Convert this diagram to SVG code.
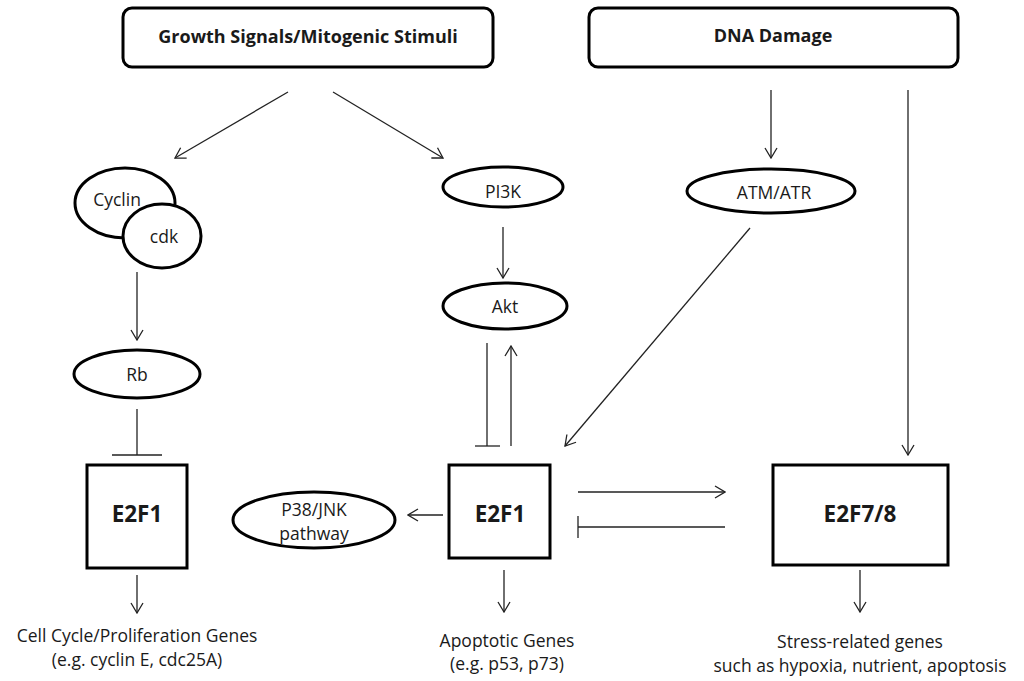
<svg xmlns="http://www.w3.org/2000/svg" width="1024" height="681" viewBox="0 0 1024 681">
<style>
.t{font-family:"Open Sans","Liberation Sans",sans-serif;fill:#1a1a1a;text-anchor:middle;dominant-baseline:central;font-size:17.5px}
.b{font-weight:bold}
.h{font-size:18px}
.e{font-size:22.5px}
.box{fill:#fff;stroke:#000;stroke-width:3}
.ell{fill:#fff;stroke:#000;stroke-width:3}
.c{stroke:#222;stroke-width:1.3;fill:none}
</style>
<defs>
<marker id="a" viewBox="0 0 12 14" refX="11" refY="7" markerWidth="12" markerHeight="14" markerUnits="userSpaceOnUse" orient="auto">
<path d="M1,1 L11,7 L1,13" fill="none" stroke="#222" stroke-width="1.3"/>
</marker>
</defs>
<rect width="1024" height="681" fill="#fff"/>
<g id="growth"><rect class="box" x="123" y="8" width="370" height="59" rx="9"/><text class="t b h" x="308" y="36">Growth Signals/Mitogenic Stimuli</text></g>
<g id="dna"><rect class="box" x="589" y="8" width="369" height="59" rx="9"/><text class="t b h" x="773" y="35">DNA Damage</text></g>
<g id="cyclin"><ellipse class="ell" cx="125" cy="203" rx="50" ry="35"/><text class="t" x="117" y="199">Cyclin</text></g>
<g id="cdk"><ellipse class="ell" cx="162" cy="236" rx="39" ry="32"/><text class="t" x="164" y="236">cdk</text></g>
<g id="rb"><ellipse class="ell" cx="137" cy="374" rx="63" ry="24"/><text class="t" x="137" y="374">Rb</text></g>
<g id="pi3k"><ellipse class="ell" cx="503" cy="187" rx="60" ry="20"/><text class="t" x="503" y="191">PI3K</text></g>
<g id="akt"><ellipse class="ell" cx="505" cy="306" rx="62" ry="23"/><text class="t" x="505" y="306">Akt</text></g>
<g id="atm"><ellipse class="ell" cx="771" cy="191" rx="84" ry="22"/><text class="t" x="774" y="192">ATM/ATR</text></g>
<g id="e2f1a"><rect class="box" x="87" y="465" width="100" height="103" stroke-width="3.5"/><text class="t b e" x="137" y="513">E2F1</text></g>
<g id="e2f1b"><rect class="box" x="449" y="465" width="101" height="93" stroke-width="3.5"/><text class="t b e" x="500" y="513">E2F1</text></g>
<g id="e2f78"><rect class="box" x="773" y="465" width="175" height="100" stroke-width="3.5"/><text class="t b e" x="860" y="513">E2F7/8</text></g>
<g id="p38"><ellipse class="ell" cx="314" cy="520" rx="81" ry="28"/><text class="t" x="314" y="509">P38/JNK</text><text class="t" x="314" y="533">pathway</text></g>
<g id="lbl1"><text class="t" x="137" y="635">Cell Cycle/Proliferation Genes</text><text class="t" x="137" y="659">(e.g. cyclin E, cdc25A)</text></g>
<g id="lbl2"><text class="t" x="507" y="640">Apoptotic Genes</text><text class="t" x="507" y="663">(e.g. p53, p73)</text></g>
<g id="lbl3"><text class="t" x="860" y="641">Stress-related genes</text><text class="t" x="860" y="665">such as hypoxia, nutrient, apoptosis</text></g>
<g id="connectors">
<line class="c" x1="288" y1="92" x2="175" y2="158" marker-end="url(#a)"/>
<line class="c" x1="333" y1="92" x2="443" y2="158" marker-end="url(#a)"/>
<line class="c" x1="771" y1="90" x2="771" y2="158" marker-end="url(#a)"/>
<line class="c" x1="908" y1="90" x2="908" y2="455" marker-end="url(#a)"/>
<line class="c" x1="137" y1="272" x2="137" y2="340" marker-end="url(#a)"/>
<line class="c" x1="137" y1="409" x2="137" y2="455"/><line class="c" x1="112" y1="455" x2="162" y2="455"/>
<line class="c" x1="503" y1="227" x2="503" y2="278" marker-end="url(#a)"/>
<line class="c" x1="487" y1="343" x2="487" y2="446"/><line class="c" x1="475" y1="446" x2="500" y2="446"/>
<line class="c" x1="511" y1="446" x2="511" y2="346" marker-end="url(#a)"/>
<line class="c" x1="750" y1="228" x2="565" y2="446" marker-end="url(#a)"/>
<line class="c" x1="443" y1="515" x2="408" y2="515" marker-end="url(#a)"/>
<line class="c" x1="578" y1="492" x2="725" y2="492" marker-end="url(#a)"/>
<line class="c" x1="725" y1="527" x2="578" y2="527"/><line class="c" x1="578" y1="516" x2="578" y2="538"/>
<line class="c" x1="137" y1="575" x2="137" y2="613" marker-end="url(#a)"/>
<line class="c" x1="504" y1="570" x2="504" y2="612" marker-end="url(#a)"/>
<line class="c" x1="860" y1="570" x2="860" y2="612" marker-end="url(#a)"/>
</g>
</svg>
